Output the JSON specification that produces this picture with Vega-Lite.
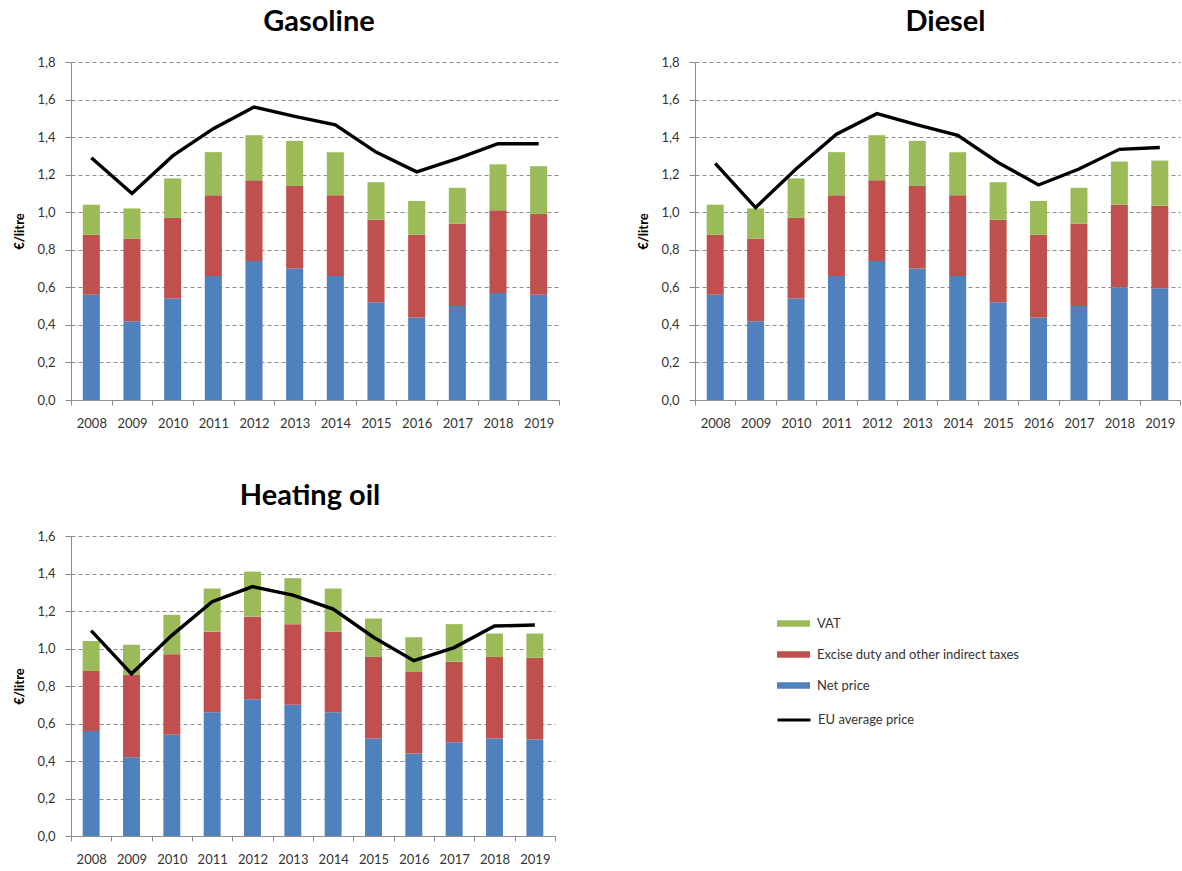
{
  "$schema": "https://vega.github.io/schema/vega-lite/v6.json",
  "background": "white",
  "padding": {"left": 13, "top": 8, "right": 5, "bottom": 5},
  "datasets": {
    "prices": [
      {"fuel": "Gasoline", "year": "2008", "Net price": 0.56, "Excise duty and other indirect taxes": 0.32, "VAT": 0.16, "eu": 1.29},
      {"fuel": "Gasoline", "year": "2009", "Net price": 0.42, "Excise duty and other indirect taxes": 0.44, "VAT": 0.16, "eu": 1.10},
      {"fuel": "Gasoline", "year": "2010", "Net price": 0.54, "Excise duty and other indirect taxes": 0.43, "VAT": 0.21, "eu": 1.30},
      {"fuel": "Gasoline", "year": "2011", "Net price": 0.66, "Excise duty and other indirect taxes": 0.43, "VAT": 0.23, "eu": 1.445},
      {"fuel": "Gasoline", "year": "2012", "Net price": 0.74, "Excise duty and other indirect taxes": 0.43, "VAT": 0.24, "eu": 1.56},
      {"fuel": "Gasoline", "year": "2013", "Net price": 0.70, "Excise duty and other indirect taxes": 0.44, "VAT": 0.24, "eu": 1.51},
      {"fuel": "Gasoline", "year": "2014", "Net price": 0.66, "Excise duty and other indirect taxes": 0.43, "VAT": 0.23, "eu": 1.465},
      {"fuel": "Gasoline", "year": "2015", "Net price": 0.52, "Excise duty and other indirect taxes": 0.44, "VAT": 0.20, "eu": 1.32},
      {"fuel": "Gasoline", "year": "2016", "Net price": 0.44, "Excise duty and other indirect taxes": 0.44, "VAT": 0.18, "eu": 1.215},
      {"fuel": "Gasoline", "year": "2017", "Net price": 0.50, "Excise duty and other indirect taxes": 0.44, "VAT": 0.19, "eu": 1.285},
      {"fuel": "Gasoline", "year": "2018", "Net price": 0.57, "Excise duty and other indirect taxes": 0.44, "VAT": 0.245, "eu": 1.365},
      {"fuel": "Gasoline", "year": "2019", "Net price": 0.56, "Excise duty and other indirect taxes": 0.43, "VAT": 0.255, "eu": 1.365},
      {"fuel": "Diesel", "year": "2008", "Net price": 0.56, "Excise duty and other indirect taxes": 0.32, "VAT": 0.16, "eu": 1.26},
      {"fuel": "Diesel", "year": "2009", "Net price": 0.42, "Excise duty and other indirect taxes": 0.44, "VAT": 0.16, "eu": 1.025},
      {"fuel": "Diesel", "year": "2010", "Net price": 0.54, "Excise duty and other indirect taxes": 0.43, "VAT": 0.21, "eu": 1.23},
      {"fuel": "Diesel", "year": "2011", "Net price": 0.66, "Excise duty and other indirect taxes": 0.43, "VAT": 0.23, "eu": 1.415},
      {"fuel": "Diesel", "year": "2012", "Net price": 0.74, "Excise duty and other indirect taxes": 0.43, "VAT": 0.24, "eu": 1.525},
      {"fuel": "Diesel", "year": "2013", "Net price": 0.70, "Excise duty and other indirect taxes": 0.44, "VAT": 0.24, "eu": 1.465},
      {"fuel": "Diesel", "year": "2014", "Net price": 0.66, "Excise duty and other indirect taxes": 0.43, "VAT": 0.23, "eu": 1.41},
      {"fuel": "Diesel", "year": "2015", "Net price": 0.52, "Excise duty and other indirect taxes": 0.44, "VAT": 0.20, "eu": 1.265},
      {"fuel": "Diesel", "year": "2016", "Net price": 0.44, "Excise duty and other indirect taxes": 0.44, "VAT": 0.18, "eu": 1.145},
      {"fuel": "Diesel", "year": "2017", "Net price": 0.50, "Excise duty and other indirect taxes": 0.44, "VAT": 0.19, "eu": 1.23},
      {"fuel": "Diesel", "year": "2018", "Net price": 0.60, "Excise duty and other indirect taxes": 0.44, "VAT": 0.23, "eu": 1.335},
      {"fuel": "Diesel", "year": "2019", "Net price": 0.595, "Excise duty and other indirect taxes": 0.44, "VAT": 0.24, "eu": 1.345},
      {"fuel": "Heating oil", "year": "2008", "Net price": 0.56, "Excise duty and other indirect taxes": 0.32, "VAT": 0.16, "eu": 1.095},
      {"fuel": "Heating oil", "year": "2009", "Net price": 0.42, "Excise duty and other indirect taxes": 0.44, "VAT": 0.16, "eu": 0.865},
      {"fuel": "Heating oil", "year": "2010", "Net price": 0.54, "Excise duty and other indirect taxes": 0.43, "VAT": 0.21, "eu": 1.07},
      {"fuel": "Heating oil", "year": "2011", "Net price": 0.66, "Excise duty and other indirect taxes": 0.43, "VAT": 0.23, "eu": 1.25},
      {"fuel": "Heating oil", "year": "2012", "Net price": 0.73, "Excise duty and other indirect taxes": 0.44, "VAT": 0.24, "eu": 1.33},
      {"fuel": "Heating oil", "year": "2013", "Net price": 0.70, "Excise duty and other indirect taxes": 0.43, "VAT": 0.245, "eu": 1.285},
      {"fuel": "Heating oil", "year": "2014", "Net price": 0.66, "Excise duty and other indirect taxes": 0.43, "VAT": 0.23, "eu": 1.21},
      {"fuel": "Heating oil", "year": "2015", "Net price": 0.52, "Excise duty and other indirect taxes": 0.435, "VAT": 0.205, "eu": 1.06},
      {"fuel": "Heating oil", "year": "2016", "Net price": 0.44, "Excise duty and other indirect taxes": 0.435, "VAT": 0.185, "eu": 0.935},
      {"fuel": "Heating oil", "year": "2017", "Net price": 0.50, "Excise duty and other indirect taxes": 0.43, "VAT": 0.20, "eu": 1.005},
      {"fuel": "Heating oil", "year": "2018", "Net price": 0.52, "Excise duty and other indirect taxes": 0.435, "VAT": 0.125, "eu": 1.12},
      {"fuel": "Heating oil", "year": "2019", "Net price": 0.515, "Excise duty and other indirect taxes": 0.435, "VAT": 0.13, "eu": 1.125}
    ]
  },
  "vconcat": [
    {
      "hconcat": [
        {
          "title": {"text": "Gasoline", "dx": 4},
          "width": 488,
          "height": 338,
          "data": {"name": "prices"},
          "transform": [{"filter": "datum.fuel === 'Gasoline'"}],
          "encoding": {
            "x": {"field": "year", "type": "ordinal", "title": null, "scale": {"paddingInner": 0, "paddingOuter": 0}}
          },
          "layer": [
            {
              "transform": [
                {"fold": ["Net price", "Excise duty and other indirect taxes", "VAT"], "as": ["component", "value"]},
                {"calculate": "indexof(['Net price','Excise duty and other indirect taxes','VAT'], datum.component)", "as": "ord"}
              ],
              "mark": {"type": "bar", "width": {"band": 0.42}},
              "encoding": {
                "y": {"field": "value", "type": "quantitative", "stack": "zero", "title": "€/litre", "scale": {"domain": [0, 1.8]}, "axis": {"values": [0, 0.2, 0.4, 0.6, 0.8, 1.0, 1.2, 1.4, 1.6, 1.8]}},
                "color": {"field": "component", "type": "nominal", "scale": {"domain": ["VAT", "Excise duty and other indirect taxes", "Net price"], "range": ["#9BBB59", "#C0504D", "#4F81BD"]}, "legend": {"legendX": 705, "legendY": 544, "symbolType": "M-1,-0.19H1V0.19H-1Z"}},
                "order": {"field": "ord", "type": "quantitative"}
              }
            },
            {
              "mark": {"type": "line", "strokeWidth": 3.4, "strokeJoin": "miter"},
              "encoding": {
                "y": {"field": "eu", "type": "quantitative", "title": "€/litre", "scale": {"domain": [0, 1.8]}, "axis": {"values": [0, 0.2, 0.4, 0.6, 0.8, 1.0, 1.2, 1.4, 1.6, 1.8]}},
                "stroke": {"datum": "EU average price", "scale": {"domain": ["EU average price"], "range": ["#000000"]}, "legend": {"legendX": 705, "legendY": 640, "symbolType": "stroke", "symbolStrokeWidth": 3}}
              }
            }
          ]
        },
        {
          "title": {"text": "Diesel", "dx": 8},
          "width": 485,
          "height": 338,
          "data": {"name": "prices"},
          "transform": [{"filter": "datum.fuel === 'Diesel'"}],
          "encoding": {
            "x": {"field": "year", "type": "ordinal", "title": null, "scale": {"paddingInner": 0, "paddingOuter": 0}}
          },
          "layer": [
            {
              "transform": [
                {"fold": ["Net price", "Excise duty and other indirect taxes", "VAT"], "as": ["component", "value"]},
                {"calculate": "indexof(['Net price','Excise duty and other indirect taxes','VAT'], datum.component)", "as": "ord"}
              ],
              "mark": {"type": "bar", "width": {"band": 0.42}},
              "encoding": {
                "y": {"field": "value", "type": "quantitative", "stack": "zero", "title": "€/litre", "scale": {"domain": [0, 1.8]}, "axis": {"values": [0, 0.2, 0.4, 0.6, 0.8, 1.0, 1.2, 1.4, 1.6, 1.8]}},
                "color": {"field": "component", "type": "nominal"},
                "order": {"field": "ord", "type": "quantitative"}
              }
            },
            {
              "mark": {"type": "line", "strokeWidth": 3.4, "strokeJoin": "miter"},
              "encoding": {
                "y": {"field": "eu", "type": "quantitative", "title": "€/litre", "scale": {"domain": [0, 1.8]}, "axis": {"values": [0, 0.2, 0.4, 0.6, 0.8, 1.0, 1.2, 1.4, 1.6, 1.8]}},
                "stroke": {"datum": "EU average price"}
              }
            }
          ]
        }
      ],
      "spacing": 77
    },
    {
      "title": {"text": "Heating oil", "dx": -3},
      "width": 484,
      "height": 300,
      "data": {"name": "prices"},
      "transform": [{"filter": "datum.fuel === 'Heating oil'"}],
      "encoding": {
        "x": {"field": "year", "type": "ordinal", "title": null, "scale": {"paddingInner": 0, "paddingOuter": 0}}
      },
      "layer": [
        {
          "transform": [
            {"fold": ["Net price", "Excise duty and other indirect taxes", "VAT"], "as": ["component", "value"]},
            {"calculate": "indexof(['Net price','Excise duty and other indirect taxes','VAT'], datum.component)", "as": "ord"}
          ],
          "mark": {"type": "bar", "width": {"band": 0.42}},
          "encoding": {
            "y": {"field": "value", "type": "quantitative", "stack": "zero", "title": "€/litre", "scale": {"domain": [0, 1.6]}, "axis": {"values": [0, 0.2, 0.4, 0.6, 0.8, 1.0, 1.2, 1.4, 1.6]}},
            "color": {"field": "component", "type": "nominal"},
            "order": {"field": "ord", "type": "quantitative"}
          }
        },
        {
          "mark": {"type": "line", "strokeWidth": 3.4, "strokeJoin": "miter"},
          "encoding": {
            "y": {"field": "eu", "type": "quantitative", "title": "€/litre", "scale": {"domain": [0, 1.6]}, "axis": {"values": [0, 0.2, 0.4, 0.6, 0.8, 1.0, 1.2, 1.4, 1.6]}},
            "stroke": {"datum": "EU average price"}
          }
        }
      ]
    }
  ],
  "spacing": 52,
  "resolve": {"scale": {"color": "shared", "stroke": "shared"}},
  "config": {
    "font": "Lato",
    "view": {"stroke": null},
    "title": {"fontSize": 29, "fontWeight": "bold", "font": "Lato", "color": "#000000", "anchor": "middle", "offset": 19},
    "axis": {
      "labelFont": "Lato",
      "labelFontSize": 13,
      "labelColor": "#333333",
      "titleFont": "Lato",
      "titleFontSize": 13,
      "titleFontWeight": "bold",
      "titleColor": "#000000",
      "domainColor": "#8c8c8c",
      "tickColor": "#8c8c8c",
      "domainWidth": 1,
      "tickWidth": 1
    },
    "axisY": {
      "grid": true,
      "gridDash": [4, 3],
      "gridColor": "#8c8c8c",
      "gridWidth": 1,
      "tickSize": 6,
      "labelPadding": 10,
      "titlePadding": 10,
      "labelOverlap": false,
      "labelExpr": "replace(format(datum.value, '.1f'), '.', ',')"
    },
    "axisX": {
      "grid": false,
      "labelAngle": 0,
      "tickBand": "extent",
      "tickSize": 5,
      "labelPadding": 12
    },
    "legend": {
      "orient": "none",
      "title": null,
      "labelFont": "Lato",
      "labelFontSize": 13,
      "labelColor": "#333333",
      "labelOffset": 6,
      "labelLimit": 400,
      "rowPadding": 6,
      "symbolSize": 1089,
      "symbolOpacity": 1
    }
  }
}
